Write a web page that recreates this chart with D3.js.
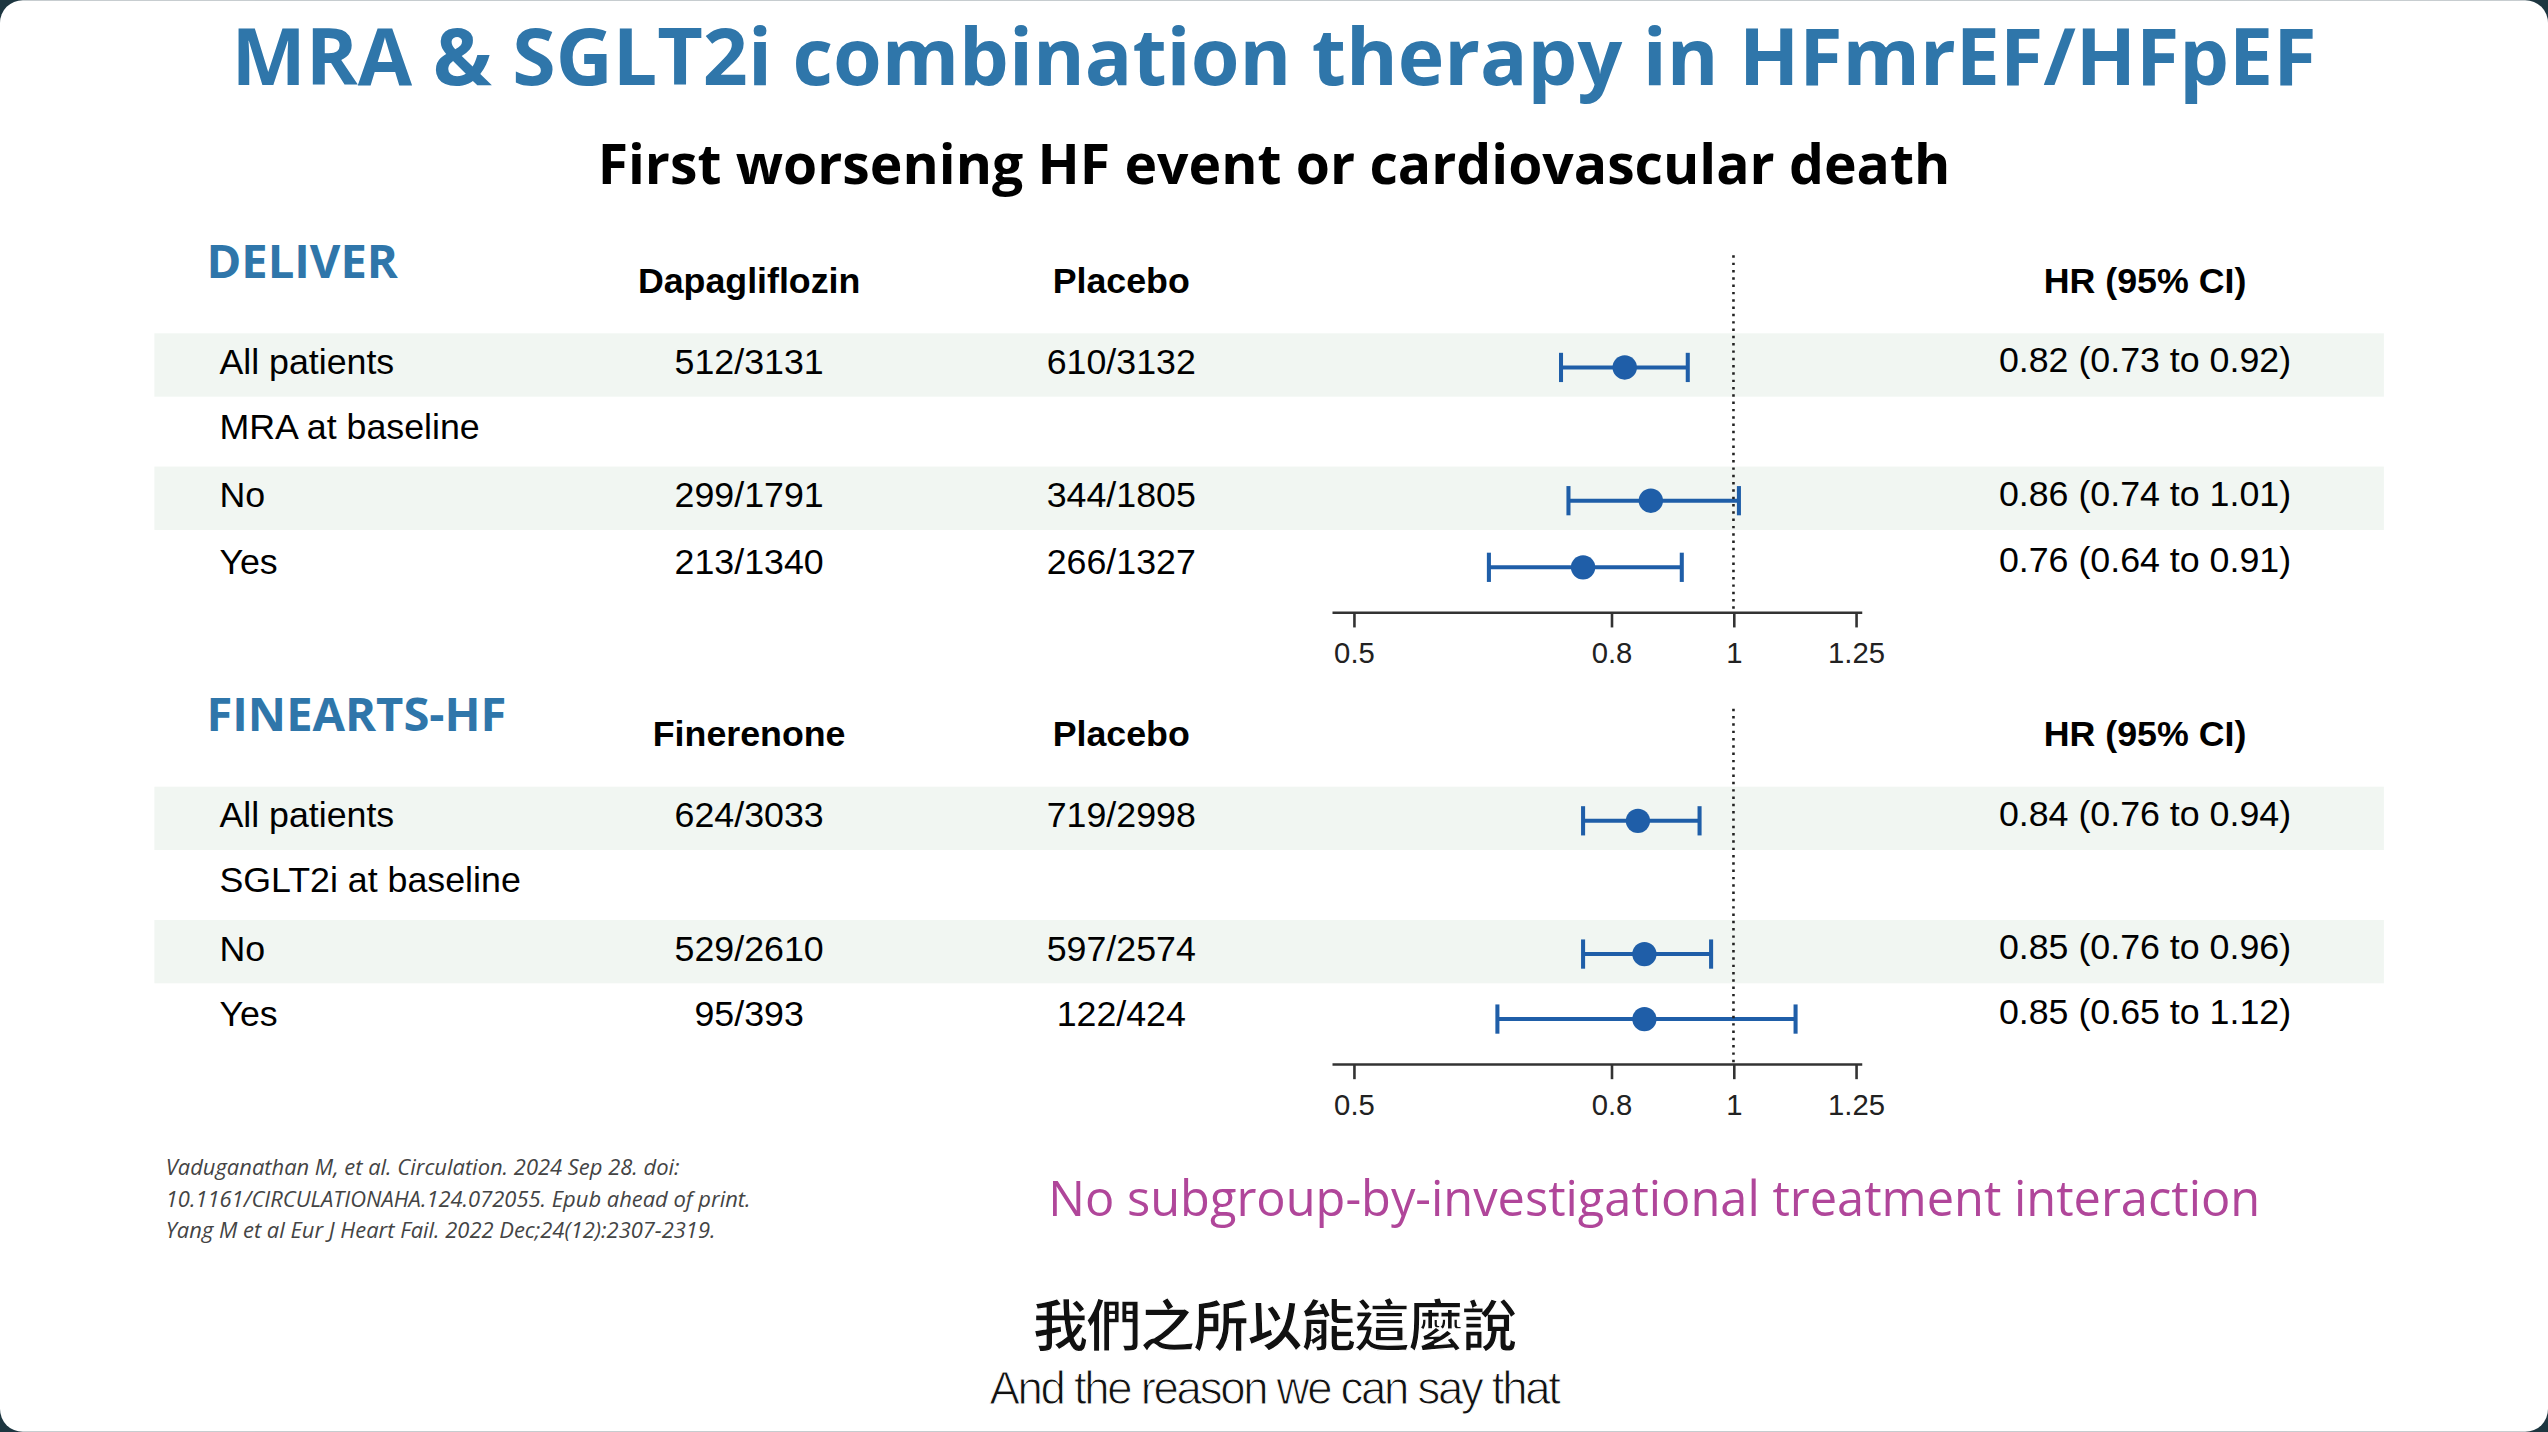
<!DOCTYPE html>
<html><head><meta charset="utf-8">
<script src="https://cdn.jsdelivr.net/npm/d3@7"></script>
<style>body{margin:0;background:#1d3640;overflow:hidden}</style>
</head><body><div id="chart"></div>
<script>
(function(){
  // layout in 1568x881 units, scaled to the window
  const W = 1568, H = 881
  const svg = d3.select('#chart').append('svg')
    .attr('width', 2548).attr('height', 1432)
    .attr('viewBox', `0 0 ${W} ${H}`)

  svg.append('rect').attr('x', 0).attr('y', 0).attr('width', W).attr('height', H)
    .attr('rx', 14).style('fill', '#fff')

  const sans = 'Liberation Sans, Arial, sans-serif'
  const calibri = 'Open Sans, Noto Sans, sans-serif'

  svg.append('text').attr('x', 784).attr('y', 52).attr('text-anchor', 'middle')
    .style('font-family', calibri).style('font-weight', 700).style('font-size', '48.5px')
    .style('fill', '#2f76aa').text('MRA & SGLT2i combination therapy in HFmrEF/HFpEF')
  svg.append('text').attr('x', 784).attr('y', 113).attr('text-anchor', 'middle')
    .style('font-family', calibri).style('font-weight', 700).style('font-size', '34px')
    .style('fill', '#000').text('First worsening HF event or cardiovascular death')

  const panels = [
    {name: 'DELIVER', top: 160, col1: 'Dapagliflozin', sub: 'MRA at baseline', rows: [
      {label: 'All patients', a: '512/3131', b: '610/3132', hr: 0.82, lo: 0.73, hi: 0.92, y: 226, shade: true},
      {label: 'No', a: '299/1791', b: '344/1805', hr: 0.86, lo: 0.74, hi: 1.01, y: 308, shade: true},
      {label: 'Yes', a: '213/1340', b: '266/1327', hr: 0.76, lo: 0.64, hi: 0.91, y: 349, shade: false}
    ]},
    {name: 'FINEARTS-HF', top: 439, col1: 'Finerenone', sub: 'SGLT2i at baseline', rows: [
      {label: 'All patients', a: '624/3033', b: '719/2998', hr: 0.84, lo: 0.76, hi: 0.94, y: 505, shade: true},
      {label: 'No', a: '529/2610', b: '597/2574', hr: 0.85, lo: 0.76, hi: 0.96, y: 587, shade: true},
      {label: 'Yes', a: '95/393', b: '122/424', hr: 0.85, lo: 0.65, hi: 1.12, y: 627, shade: false}
    ]}
  ]

  const x = d3.scaleLog().domain([0.5, 1.25]).range([833, 1142])
  const blue = '#1f5ea8'
  const fmt = d3.format('.2f')
  const fs = '22px'

  panels.forEach(p => {
    const g = svg.append('g')
    g.selectAll('.band').data(p.rows.filter(r => r.shade)).enter().append('rect')
      .attr('x', 95).attr('width', 1372).attr('y', d => d.y - 21).attr('height', 39)
      .style('fill', '#f1f6f2')

    g.append('text').attr('x', 127).attr('y', p.top + 11)
      .style('font-family', calibri).style('font-weight', 700).style('font-size', '29px')
      .style('fill', '#2f76aa').text(p.name)
    const hy = p.top + 20
    ;[[461, p.col1], [690, 'Placebo'], [1320, 'HR (95% CI)']].forEach(h => {
      g.append('text').attr('x', h[0]).attr('y', hy).attr('text-anchor', 'middle')
        .style('font-family', sans).style('font-weight', 700).style('font-size', fs).text(h[1])
    })
    g.append('text').attr('x', 135).attr('y', (p.rows[0].y + p.rows[1].y) / 2 + 3)
      .style('font-family', sans).style('font-size', fs).text(p.sub)

    const row = g.selectAll('.row').data(p.rows).enter().append('g').attr('class', 'row')
    row.append('text').attr('x', 135).attr('y', d => d.y + 4)
      .style('font-family', sans).style('font-size', fs).text(d => d.label)
    row.append('text').attr('x', 461).attr('y', d => d.y + 4).attr('text-anchor', 'middle')
      .style('font-family', sans).style('font-size', fs).text(d => d.a)
    row.append('text').attr('x', 690).attr('y', d => d.y + 4).attr('text-anchor', 'middle')
      .style('font-family', sans).style('font-size', fs).text(d => d.b)
    row.append('text').attr('x', 1320).attr('y', d => d.y + 3).attr('text-anchor', 'middle')
      .style('font-family', sans).style('font-size', fs)
      .text(d => `${fmt(d.hr)} (${fmt(d.lo)} to ${fmt(d.hi)})`)

    const axisY = p.rows[2].y + 28
    g.append('line').attr('x1', x(1)).attr('x2', x(1)).attr('y1', p.top - 3).attr('y2', axisY)
      .style('stroke', '#222').style('stroke-width', 1.6).style('stroke-dasharray', '1.5,3')

    row.append('line').attr('x1', d => x(d.lo)).attr('x2', d => x(d.hi))
      .attr('y1', d => d.y).attr('y2', d => d.y).style('stroke', blue).style('stroke-width', 2.5)
    ;['lo', 'hi'].forEach(k => {
      row.append('line').attr('x1', d => x(d[k])).attr('x2', d => x(d[k]))
        .attr('y1', d => d.y - 9).attr('y2', d => d.y + 9).style('stroke', blue).style('stroke-width', 2.5)
    })
    row.append('circle').attr('cx', d => x(d.hr)).attr('cy', d => d.y).attr('r', 7.5).style('fill', blue)

    const axis = g.append('g').attr('transform', `translate(0,${axisY})`)
      .call(d3.axisBottom(x).tickValues([0.5, 0.8, 1, 1.25]).tickFormat(d3.format('')).tickSize(9).tickSizeOuter(0))
    axis.select('.domain').attr('d', `M820,0H1146`).style('stroke', '#333').style('stroke-width', 1.6)
    axis.selectAll('.tick line').attr('y1', 0).attr('y2', 9).style('stroke', '#333').style('stroke-width', 1.6)
    axis.selectAll('.tick text').attr('y', 18)
      .style('font-family', sans).style('font-size', '18px').style('fill', '#222')
  })

  const refs = ['Vaduganathan M, et al. Circulation. 2024 Sep 28. doi:',
    '10.1161/CIRCULATIONAHA.124.072055. Epub ahead of print.',
    'Yang M et al Eur J Heart Fail. 2022 Dec;24(12):2307-2319.']
  svg.selectAll('.ref').data(refs).enter().append('text').attr('class', 'ref')
    .attr('x', 102).attr('y', (d, i) => 723 + i * 19.5)
    .style('font-family', calibri).style('font-style', 'italic').style('font-size', '13.5px')
    .style('fill', '#444').text(d => d)

  svg.append('text').attr('x', 1018).attr('y', 748).attr('text-anchor', 'middle')
    .style('font-family', calibri).style('font-size', '30px').style('fill', '#b0469a')
    .text('No subgroup-by-investigational treatment interaction')

  svg.append('text').attr('x', 784).attr('y', 828).attr('text-anchor', 'middle')
    .style('font-family', 'Noto Sans CJK TC').style('font-weight', 700).style('font-size', '34px')
    .style('fill', '#111').style('stroke', '#fff').style('stroke-width', 0.8)
    .style('letter-spacing', '-1px').text('我們之所以能這麼說')
  svg.append('text').attr('x', 784).attr('y', 864).attr('text-anchor', 'middle')
    .style('font-family', sans).style('font-size', '28px').style('letter-spacing', '-1.4px')
    .style('fill', '#111').style('stroke', '#fff').style('stroke-width', 0.6)
    .text('And the reason we can say that')
})()
</script></body></html>
